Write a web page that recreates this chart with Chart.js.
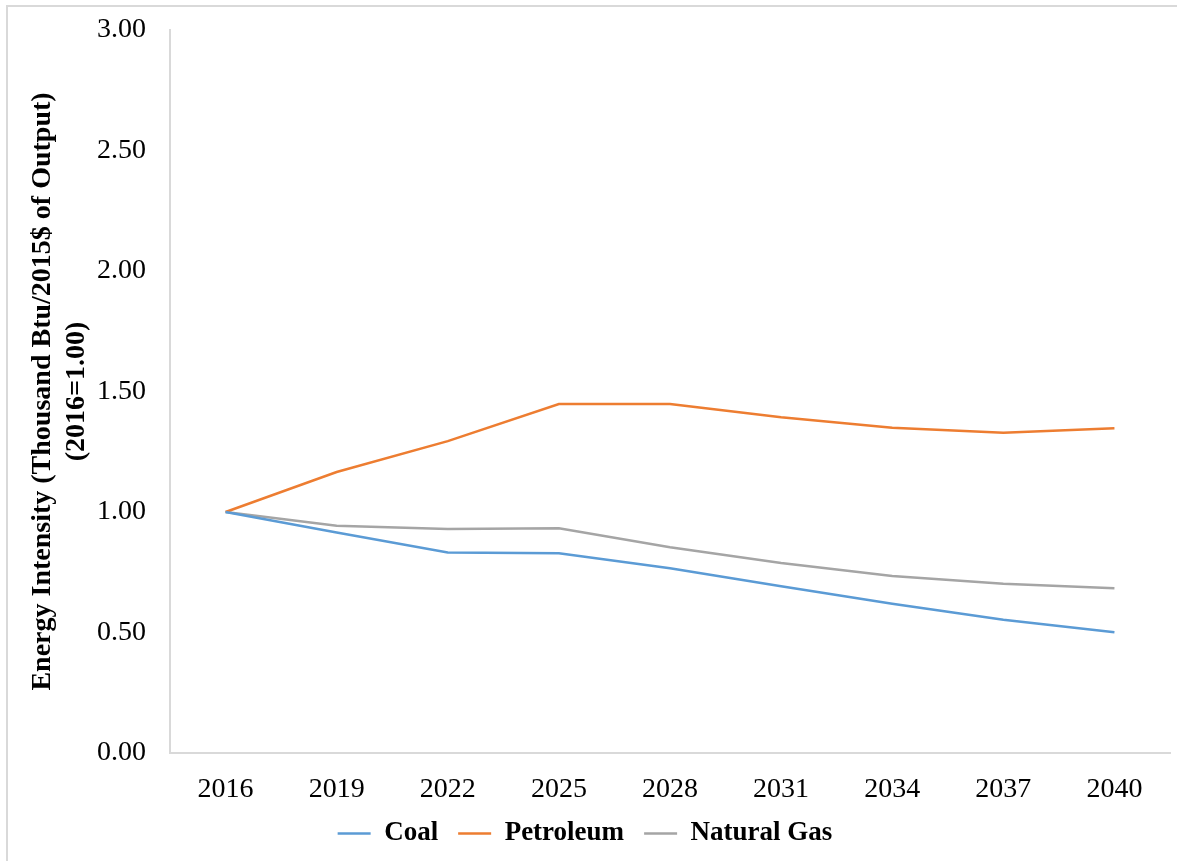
<!DOCTYPE html>
<html>
<head>
<meta charset="utf-8">
<script src="https://cdn.jsdelivr.net/npm/chart.js@4"></script>
<style>
  body { margin: 0; background: #fff; overflow: hidden; }
  #wrap { position: relative; width: 1177px; height: 861px; }
  #frame { position: absolute; left: 6px; top: 5px; width: 1200px; height: 900px; border: 2px solid #d9d9d9; box-sizing: border-box; }
  canvas { position: absolute; left: 0; top: 0; }
</style>
</head>
<body>
<div id="wrap">
  <div id="frame"></div>
  <canvas id="chart" width="1177" height="861"></canvas>
</div>
<script>
const years = ["2016", "2019", "2022", "2025", "2028", "2031", "2034", "2037", "2040"];
const coal = [1.00, 0.915, 0.832, 0.829, 0.767, 0.692, 0.619, 0.553, 0.501];
const petroleum = [1.00, 1.166, 1.294, 1.448, 1.448, 1.393, 1.350, 1.329, 1.347];
const naturalGas = [1.00, 0.943, 0.929, 0.933, 0.854, 0.788, 0.734, 0.702, 0.684];

const font = "'Liberation Serif', 'Times New Roman', serif";

const ctx = document.getElementById('chart').getContext('2d');
new Chart(ctx, {
  type: 'line',
  data: {
    labels: years,
    datasets: [
      { label: 'Coal', data: coal, borderColor: '#5B9BD5', backgroundColor: '#5B9BD5', borderWidth: 2.5, pointRadius: 0, tension: 0 },
      { label: 'Petroleum', data: petroleum, borderColor: '#ED7D31', backgroundColor: '#ED7D31', borderWidth: 2.5, pointRadius: 0, tension: 0 },
      { label: 'Natural Gas', data: naturalGas, borderColor: '#A5A5A5', backgroundColor: '#A5A5A5', borderWidth: 2.5, pointRadius: 0, tension: 0 }
    ]
  },
  options: {
    responsive: false,
    animation: false,
    layout: { padding: { top: 0, right: 7, bottom: 4, left: 0 } },
    plugins: {
      tooltip: { enabled: false },
      legend: {
        position: 'bottom',
        labels: {
          color: '#000',
          font: { family: font, size: 27, weight: 'bold' },
          usePointStyle: true,
          pointStyle: 'line',
          pointStyleWidth: 33,
          padding: 20
        }
      }
    },
    scales: {
      x: {
        offset: true,
        grid: { display: false, drawTicks: false },
        border: { display: true, color: '#d9d9d9', width: 2 },
        ticks: { color: '#000', font: { family: font, size: 28 }, padding: 20, maxRotation: 0 },
        afterFit: (scale) => { scale.height = 47; }
      },
      y: {
        min: 0,
        max: 3,
        grid: { display: false, drawTicks: false },
        border: { display: true, color: '#d9d9d9', width: 2 },
        ticks: {
          stepSize: 0.5,
          color: '#000',
          font: { family: font, size: 28 },
          padding: 24,
          callback: (v) => Number(v).toFixed(2)
        },
        title: {
          display: true,
          text: ['Energy Intensity (Thousand Btu/2015$ of Output)', '(2016=1.00)'],
          color: '#000',
          font: { family: font, size: 28, weight: 'bold' },
          lineHeight: 1.2,
          padding: { top: 26, bottom: 0 }
        },
        afterFit: (scale) => {
          scale.width = 170;
          scale.paddingTop = 30;
          scale.paddingBottom = 0;
        }
      }
    }
  }
});
</script>
</body>
</html>
